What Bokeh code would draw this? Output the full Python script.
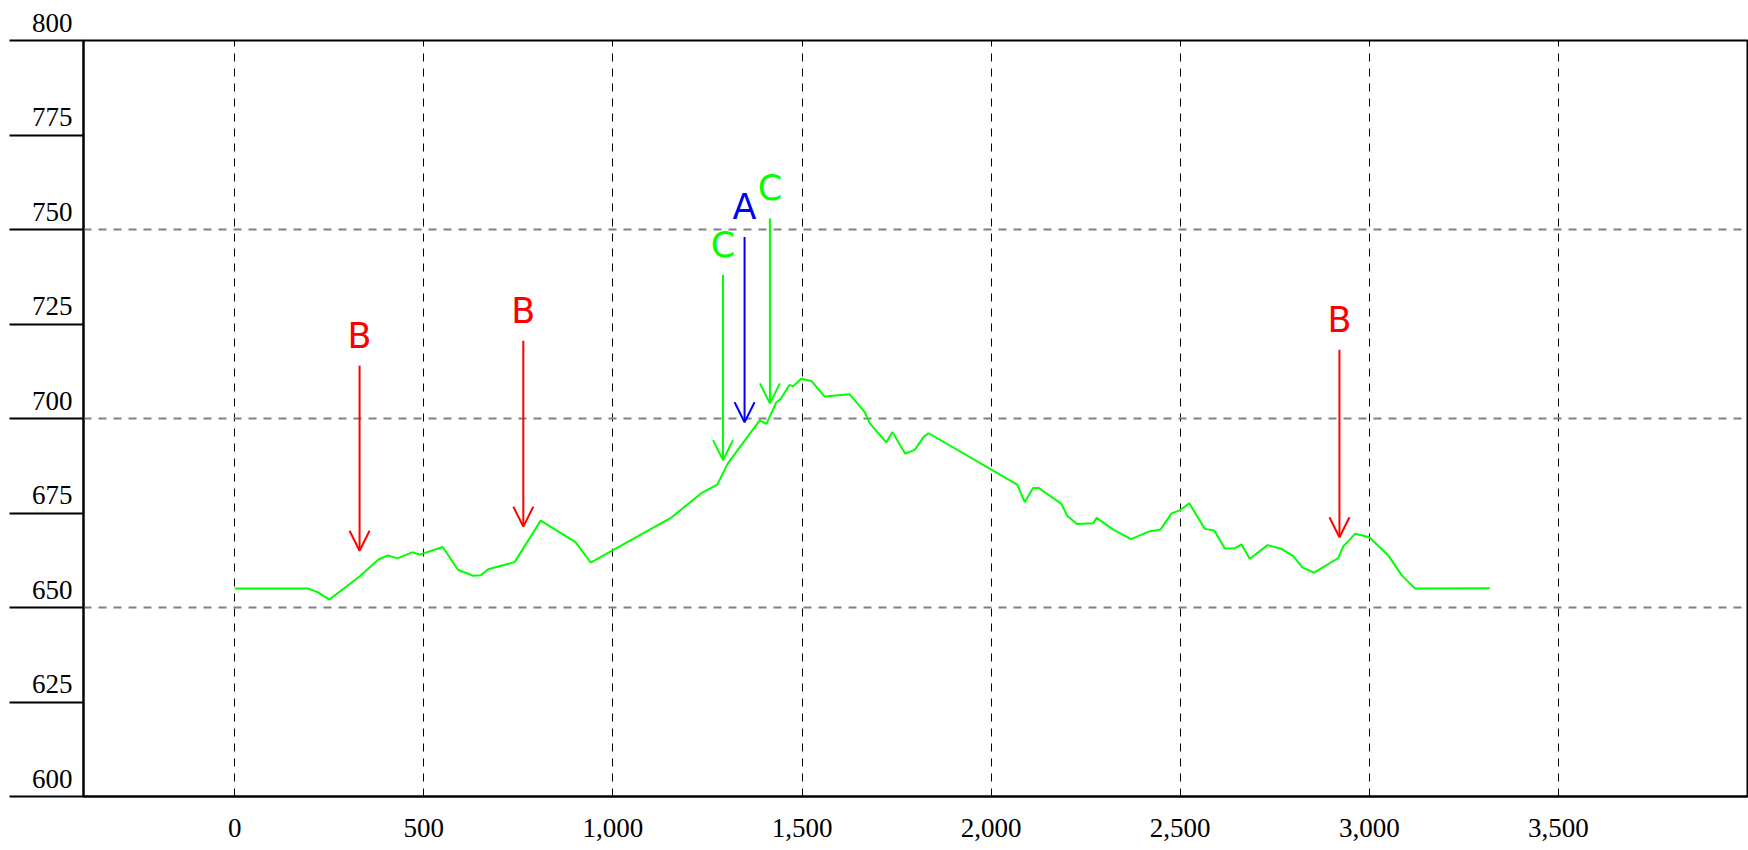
from bokeh.plotting import figure
from bokeh.models import (FixedTicker, NumeralTickFormatter, Range1d,
                          Arrow, OpenHead, ColumnDataSource)
from bokeh.core.properties import value
from bokeh.embed import file_html
from bokeh.resources import INLINE

# elevation profile (distance in m, elevation in m)
distance = [0, 195, 220, 250, 330, 380, 405, 430, 469, 489, 550, 590, 630, 650,
            670, 740, 809, 901, 941, 1153, 1236, 1276, 1303, 1388, 1406, 1432,
            1444, 1467, 1476, 1498, 1525, 1560, 1626, 1666, 1679, 1723, 1739,
            1773, 1798, 1822, 1835, 2069, 2089, 2111, 2126, 2186, 2201, 2227,
            2270, 2279, 2323, 2370, 2420, 2448, 2477, 2499, 2524, 2565, 2590,
            2618, 2645, 2662, 2684, 2731, 2768, 2799, 2823, 2854, 2918, 2931,
            2946, 2962, 3000, 3050, 3086, 3121, 3319]
elevation = [655.0, 655.0, 654.0, 652.1, 658.2, 662.7, 663.8, 663.0, 664.6, 664.0,
             666.0, 660.0, 658.4, 658.5, 660.1, 662.0, 673.0, 667.3, 661.9, 673.7,
             680.4, 682.5, 688.0, 699.5, 698.6, 704.3, 705.2, 708.9, 708.5, 710.5,
             709.9, 705.8, 706.4, 701.7, 698.7, 693.7, 696.4, 690.7, 691.7, 695.2,
             696.1, 682.5, 677.9, 681.6, 681.6, 677.4, 674.3, 672.1, 672.3, 673.7,
             670.6, 668.1, 670.2, 670.6, 674.9, 675.7, 677.6, 670.8, 670.4, 665.6,
             665.7, 666.7, 662.9, 666.5, 665.5, 663.6, 660.6, 659.2, 663.1, 666.2,
             667.7, 669.5, 668.6, 663.8, 658.5, 655.0, 655.1]

# point markers (arrows with letters)
marker_labels = ["B", "B", "C", "A", "C", "B"]
marker_x = [330, 763, 1291, 1348, 1415, 2921]
marker_top = [714.0, 720.6, 738.0, 748.0, 753.0, 718.2]
marker_tip = [665.0, 671.4, 689.0, 699.0, 704.0, 668.6]
marker_colors = ["#ff0000", "#ff0000", "#00ff00", "#0000ff", "#00ff00", "#ff0000"]

x_ticks = [0, 500, 1000, 1500, 2000, 2500, 3000, 3500]
y_ticks = [600, 625, 650, 675, 700, 725, 750, 775, 800]
y_grid_ticks = [650, 700, 750]

X_START, X_END = -400, 4000
Y_START, Y_END = 600, 800

p = figure(frame_width=1664, frame_height=756,
           x_range=Range1d(X_START, X_END), y_range=Range1d(Y_START, Y_END),
           output_backend="svg", toolbar_location=None,
           min_border_left=83, min_border_right=1,
           min_border_top=40, min_border_bottom=50)
p.background_fill_color = "white"
p.border_fill_color = "white"
p.outline_line_color = "black"
p.outline_line_width = 2
p.outline_line_alpha = 1.0

# x axis
p.xaxis.ticker = FixedTicker(ticks=x_ticks)
p.xaxis.formatter = NumeralTickFormatter(format="0,0")
p.xaxis.major_tick_out = 0
p.xaxis.major_tick_in = 0
p.xaxis.minor_tick_out = 0
p.xaxis.minor_tick_in = 0
p.xaxis.axis_line_color = "black"
p.xaxis.axis_line_width = 2
p.xaxis.major_label_text_font = "Liberation Serif"
p.xaxis.major_label_text_font_size = "27px"
p.xaxis.major_label_text_color = "black"
p.xaxis.major_label_standoff = 22

# y axis: long outside ticks, labels sitting just above each tick line
p.yaxis.ticker = FixedTicker(ticks=y_ticks)
p.yaxis.major_tick_out = 74
p.yaxis.major_tick_in = 0
p.yaxis.minor_tick_out = 0
p.yaxis.minor_tick_in = 0
p.yaxis.major_tick_line_color = "black"
p.yaxis.major_tick_line_width = 2
p.yaxis.axis_line_color = "black"
p.yaxis.axis_line_width = 2
p.yaxis.major_label_standoff = -63
p.yaxis.major_label_text_font = "Liberation Serif"
p.yaxis.major_label_text_font_size = "27px"
p.yaxis.major_label_text_color = "black"
p.yaxis.major_label_overrides = {t: f"{t}\n " for t in y_ticks}

# grids
p.xgrid.ticker = FixedTicker(ticks=x_ticks)
p.xgrid.grid_line_color = "black"
p.xgrid.grid_line_width = 1
p.xgrid.grid_line_dash = "8 7"
p.ygrid.ticker = FixedTicker(ticks=y_grid_ticks)
p.ygrid.grid_line_color = "#808080"
p.ygrid.grid_line_width = 2
p.ygrid.grid_line_dash = "8 7"

# profile
p.line(distance, elevation, line_color="#00ff00", line_width=2)

# arrows
for mx, top, tip, c in zip(marker_x, marker_top, marker_tip, marker_colors):
    p.add_layout(Arrow(x_start=mx, y_start=top, x_end=mx, y_end=tip,
                       line_color=c, line_width=2,
                       end=OpenHead(size=20, line_color=c, line_width=2)))

src = ColumnDataSource(dict(x=marker_x, y=marker_top, text=marker_labels,
                            color=marker_colors))
p.text(x="x", y="y", text="text", text_color="color", source=src,
       text_font=value("DejaVu Sans"), text_font_size="35px",
       text_align="center", text_baseline="alphabetic", y_offset=-30)

open("out.html", "w").write(file_html(p, INLINE))
